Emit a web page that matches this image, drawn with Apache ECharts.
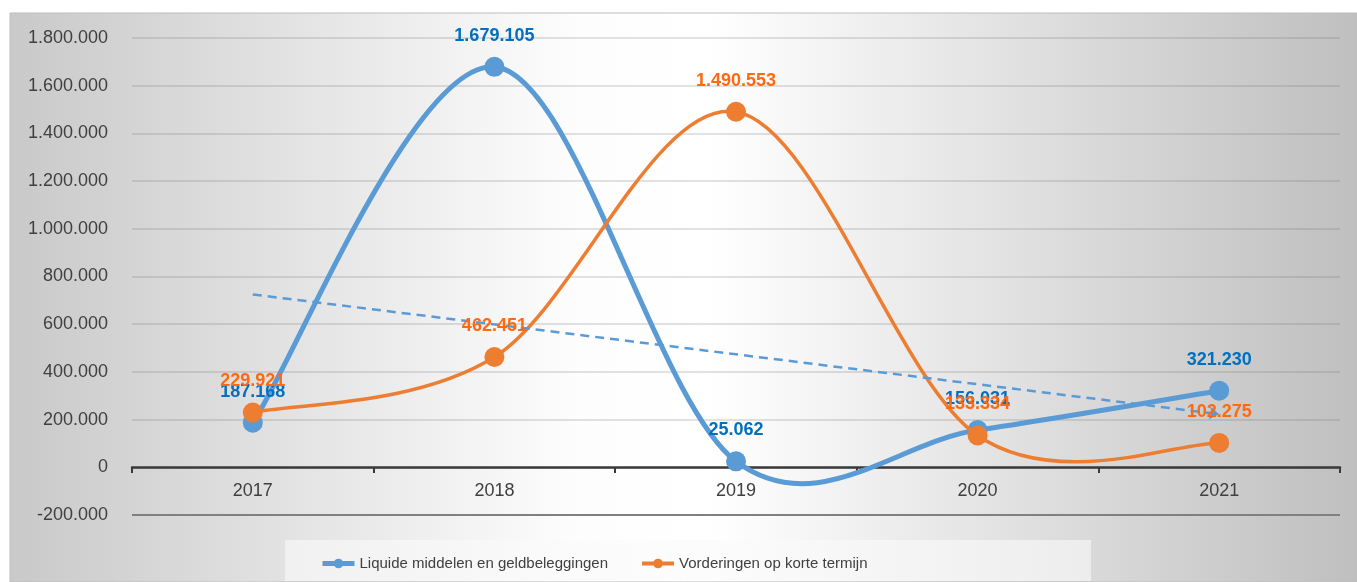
<html>
<head>
<meta charset="utf-8">
<title>Liquide middelen en vorderingen</title>
<script src="https://cdn.jsdelivr.net/npm/echarts@6/dist/echarts.min.js"></script>
<style>
	body { margin: 0; background: #fff; }
</style>
</head>
<body>
	<div id="main" style="width: 1357px; height: 582px;"></div>
	<script type="text/javascript">
		// data
		var years = ['2017', '2018', '2019', '2020', '2021'];
		var liquide = [187168, 1679105, 25062, 156031, 321230];
		var vorderingen = [229921, 462451, 1490553, 133334, 102275];
		// linear trend of liquide, start and end value
		var trendLiquide = [724700, 222700];
		var seriesNames = ['Liquide middelen en geldbeleggingen', 'Vorderingen op korte termijn'];
		var colors = ['#5b9bd5', '#ed7d31'];
		var labelColors = ['#0070c0', '#ff6a10'];

		var font = "'Liberation Sans', Arial, sans-serif";

		function fmt(v) {
			var s = String(Math.abs(v)).replace(/\B(?=(\d{3})+(?!\d))/g, '.');
			return (v < 0 ? '-' : '') + s;
		}

		var gridColors = ['#808080'];
		for (var i = 0; i < 10; i++) gridColors.push('rgba(110,110,110,0.2)');

		// excel-like smoothed line: one bezier per segment, control points at 1/6 of neighbour difference
		function smoothSeries(values, color, width, z) {
			var segs = [];
			for (var k = 0; k < values.length - 1; k++) segs.push(k);
			return {
				type: 'custom',
				z: z,
				silent: true,
				data: segs,
				renderItem: function (params, api) {
					var i = params.dataIndex;
					var n = values.length;
					function pt(k) {
						k = Math.max(0, Math.min(n - 1, k));
						return api.coord([k, values[k]]);
					}
					var p0 = pt(i - 1), p1 = pt(i), p2 = pt(i + 1), p3 = pt(i + 2);
					return {
						type: 'bezierCurve',
						shape: {
							x1: p1[0], y1: p1[1],
							x2: p2[0], y2: p2[1],
							cpx1: p1[0] + (p2[0] - p0[0]) / 6,
							cpy1: p1[1] + (p2[1] - p0[1]) / 6,
							cpx2: p2[0] - (p3[0] - p1[0]) / 6,
							cpy2: p2[1] - (p3[1] - p1[1]) / 6
						},
						style: { stroke: color, lineWidth: width, fill: null, lineCap: 'round' }
					};
				}
			};
		}

		function pointSeries(name, values, color, labelColor, z) {
			return {
				name: name,
				type: 'line',
				data: values,
				symbol: 'circle',
				symbolSize: 20,
				z: z,
				itemStyle: { color: color },
				lineStyle: { opacity: 0 },
				label: {
					show: true,
					position: 'top',
					distance: 12,
					fontFamily: font,
					fontSize: 18,
					fontWeight: 'bold',
					color: labelColor,
					formatter: function (p) { return fmt(p.value); }
				}
			};
		}

		var blueDots = pointSeries(seriesNames[0], liquide, colors[0], labelColors[0], 3);
		blueDots.markLine = {
			silent: true,
			symbol: ['none', 'arrow'],
			symbolSize: 10,
			label: { show: false },
			lineStyle: { color: colors[0], width: 2.5, type: [9, 6], opacity: 1 },
			data: [[
				{ coord: [years[0], trendLiquide[0]] },
				{ coord: [years[years.length - 1], trendLiquide[1]] }
			]]
		};

		var myChart = echarts.init(document.getElementById('main'));
		myChart.setOption({
			animation: false,
			graphic: [{
				type: 'rect',
				z: -10,
				shape: { x: 10, y: 13, width: 1347, height: 569 },
				style: {
					fill: new echarts.graphic.LinearGradient(0, 0, 1, 0, [
						{ offset: 0, color: '#c9c9c9' },
						{ offset: 0.42, color: '#fdfdfd' },
						{ offset: 0.52, color: '#ffffff' },
						{ offset: 1, color: '#bfbfbf' }
					]),
					stroke: '#bdbdbd',
					lineWidth: 1
				}
			}, {
				type: 'rect',
				z: -9,
				shape: { x: 285, y: 540, width: 806, height: 41 },
				style: { fill: 'rgba(250,250,250,0.6)' }
			}],
			grid: {
				left: 132,
				right: 17,
				top: 38,
				bottom: 67
			},
			legend: {
				left: 315,
				top: 551,
				itemWidth: 32,
				itemHeight: 12,
				itemGap: 32,
				textStyle: { fontFamily: font, fontSize: 15, color: '#404040' },
				data: [
					{ name: seriesNames[0], lineStyle: { color: colors[0], width: 5, opacity: 1 } },
					{ name: seriesNames[1], lineStyle: { color: colors[1], width: 4, opacity: 1 } }
				]
			},
			xAxis: {
				type: 'category',
				data: years,
				boundaryGap: true,
				offset: -48,
				axisLine: { onZero: false, lineStyle: { color: '#3a3a3a', width: 2.5 } },
				axisTick: { show: true, length: 6, inside: false, lineStyle: { color: '#3a3a3a', width: 2 } },
				axisLabel: { fontFamily: font, fontSize: 18, color: '#404040', margin: 15 }
			},
			yAxis: {
				type: 'value',
				min: -200000,
				max: 1800000,
				interval: 200000,
				axisLine: { show: false },
				axisTick: { show: false },
				axisLabel: {
					fontFamily: font, fontSize: 18, color: '#404040', margin: 24,
					formatter: fmt
				},
				splitLine: { lineStyle: { color: gridColors, width: 2 } }
			},
			series: [
				smoothSeries(liquide, colors[0], 5, 2),
				blueDots,
				smoothSeries(vorderingen, colors[1], 3.5, 4),
				pointSeries(seriesNames[1], vorderingen, colors[1], labelColors[1], 5)
			]
		});
	</script>
</body>
</html>
